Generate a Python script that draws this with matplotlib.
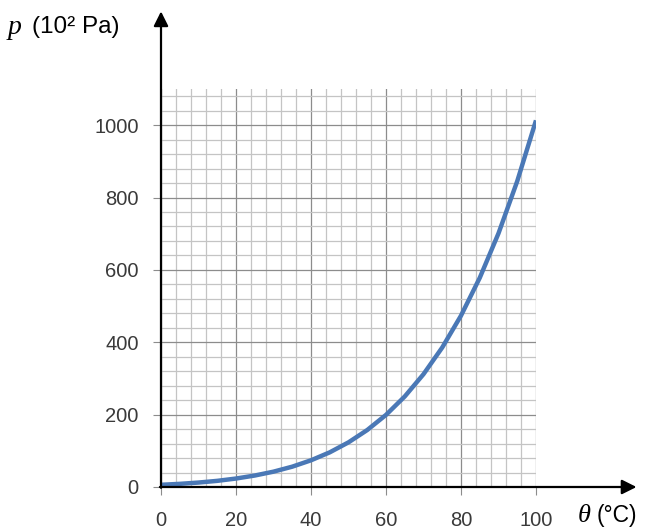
import matplotlib.pyplot as plt
from matplotlib.ticker import FixedLocator

# saturated vapour pressure of water (10^2 Pa) vs temperature (°C)
theta = [0, 5, 10, 15, 20, 25, 30, 35, 40, 45, 50,
         55, 60, 65, 70, 75, 80, 85, 90, 95, 100]
pressure = [6.1, 8.7, 12.3, 17.0, 23.4, 31.7, 42.4, 56.2, 73.8, 95.8, 123.4,
            157.5, 199.3, 250.2, 311.8, 385.6, 473.6, 578.1, 701.1, 845.3, 1013.3]

x_ticks = [0, 20, 40, 60, 80, 100]
y_ticks = [0, 200, 400, 600, 800, 1000]
x_minor = list(range(0, 101, 4))
y_minor = list(range(0, 1081, 40))

plt.rcParams['font.family'] = ['Liberation Sans', 'DejaVu Sans']

fig = plt.figure(figsize=(6.47, 5.31), dpi=100)
ax = fig.add_axes([161 / 647, 44 / 531, 375 / 647, 398 / 531])

ax.set_xlim(0, 100)
ax.set_ylim(0, 1100)

ax.xaxis.set_major_locator(FixedLocator(x_ticks))
ax.yaxis.set_major_locator(FixedLocator(y_ticks))
ax.xaxis.set_minor_locator(FixedLocator(x_minor))
ax.yaxis.set_minor_locator(FixedLocator(y_minor))

ax.grid(which='minor', color='#c4c4c4', lw=0.9)
ax.grid(which='major', color='#8c8c8c', lw=0.9)
ax.set_axisbelow(True)

ax.tick_params(which='major', length=6, color='#8c8c8c', labelsize=14.5,
               labelcolor='#3a3a3a')
ax.tick_params(which='minor', length=0)
ax.tick_params(axis='x', pad=11)
ax.tick_params(axis='y', pad=10)

for s in ax.spines.values():
    s.set_visible(False)

ax.plot(theta, pressure, color='#4a78b6', lw=3.2, solid_capstyle='butt', zorder=3)

# axes with arrow heads
arrow = dict(arrowstyle='-|>', color='black', lw=1.6, mutation_scale=22,
             shrinkA=0, shrinkB=0)
ax.annotate('', xy=(1.268, 0), xytext=(-0.003, 0), xycoords='axes fraction',
            arrowprops=arrow, annotation_clip=False)
ax.annotate('', xy=(0, 1.195), xytext=(0, -0.002), xycoords='axes fraction',
            arrowprops=arrow, annotation_clip=False)

# axis labels
fig.text(8 / 647, 1 - 34 / 531, 'p', family='Liberation Serif', style='italic',
         fontsize=20, va='baseline', ha='left')
fig.text(32 / 647, 1 - 33 / 531, '(10² Pa)', fontsize=17.5, va='baseline', ha='left')
fig.text(578 / 647, 1 - 522 / 531, 'θ', family='Liberation Serif', style='italic',
         fontsize=19, va='baseline', ha='left')
fig.text(597 / 647, 1 - 522 / 531, '(°C)', fontsize=16.5, va='baseline', ha='left')

fig.savefig('out.png', dpi=100)
